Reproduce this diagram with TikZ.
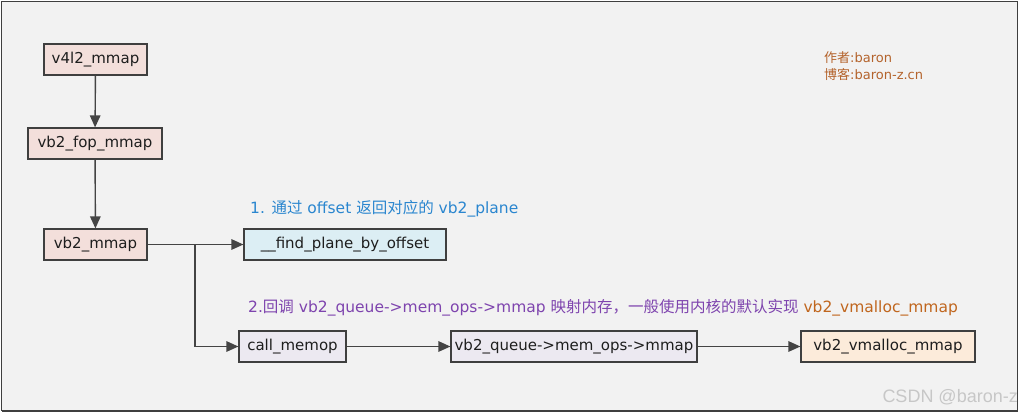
\documentclass[tikz,border=0pt]{standalone}
\usepackage{fontspec}
\setmainfont{DejaVu Sans}
\newfontfamily\cjk{Noto Sans CJK SC}
\newfontfamily\wmfont{Liberation Sans}
\usetikzlibrary{arrows.meta, positioning}

\definecolor{bgcol}{HTML}{F2F2F2}
\definecolor{framecol}{HTML}{3F3F3F}
\definecolor{linecol}{HTML}{444444}
\definecolor{pinkfill}{HTML}{F3DFDB}
\definecolor{bluefill}{HTML}{DCEEF4}
\definecolor{lilacfill}{HTML}{ECE9F1}
\definecolor{peachfill}{HTML}{FCEBDA}
\definecolor{txtcol}{HTML}{1E1E1E}
\definecolor{stepblue}{HTML}{2A86CF}
\definecolor{steppurple}{HTML}{7E44AE}
\definecolor{steporange}{HTML}{C0661E}
\definecolor{authorcol}{HTML}{B4632C}

\tikzset{
  func/.style={draw=framecol, line width=1.2pt, minimum height=31pt, inner sep=0pt,
    text=txtcol, font=\fontsize{15}{18}\selectfont},
  pinkfunc/.style={func, fill=pinkfill},
  bluefunc/.style={func, fill=bluefill},
  lilacfunc/.style={func, fill=lilacfill},
  peachfunc/.style={func, fill=peachfill},
  call/.style={draw=linecol, line width=1.4pt, -{Triangle[length=12pt,width=10.5pt]}},
  note/.style={anchor=west, inner sep=0pt, font=\fontsize{15.5}{18}\selectfont}
}

\begin{document}
\begin{tikzpicture}[x=1pt, y=-1pt]

\useasboundingbox (0,0) rectangle (1020,415);
\fill[white] (0,0) rectangle (1020,415);
\filldraw[fill=bgcol, draw=framecol, line width=1.2pt] (1.5,1.5) rectangle (1017.5,410.5);
\draw[framecol, line width=2pt] (1.5,411) -- (1017.5,411);

%v4l2_mmap
\node[pinkfunc, minimum width=103pt] (v4l2) at (95.5,59.5) {v4l2\_mmap};
%vb2_fop_mmap
\node[pinkfunc, minimum width=134pt] (fop) at (95,143.5) {vb2\_fop\_mmap};
%vb2_mmap
\node[pinkfunc, minimum width=103pt] (vb2mmap) at (95.5,244.5) {vb2\_mmap};
%__find_plane_by_offset
\node[bluefunc, minimum width=202pt] (find) at (345,244.5) {\_\_find\_plane\_by\_offset};
%call_memop
\node[lilacfunc, minimum width=107pt] (memop) at (292.5,346.5) {call\_memop};
%vb2_queue->mem_ops->mmap
\node[lilacfunc, minimum width=246pt] (qmmap) at (574,346.5) {vb2\_queue->mem\_ops->mmap};
%vb2_vmalloc_mmap
\node[peachfunc, minimum width=174pt] (vmalloc) at (888,346.5) {vb2\_vmalloc\_mmap};

\coordinate (fork) at (195,244.5);

\draw[call] (v4l2) -- (fop);
\draw[call] (fop) -- (vb2mmap);
\draw[call] (vb2mmap) -- (find);
\draw[call] (fork) |- (memop);
\draw[call] (memop) -- (qmmap);
\draw[call] (qmmap) -- (vmalloc);

%notes
\node[note, text=stepblue] (note1) at (250,209)
  {1. {\cjk 通过} offset {\cjk 返回对应的} vb2\_plane};
\node[note, text=steppurple] (note2) at (248,308)
  {2.{\cjk 回调} vb2\_queue->mem\_ops->mmap {\cjk 映射内存，一般使用内核的默认实现} \textcolor{steporange}{vb2\_vmalloc\_mmap}};

%author
\node[anchor=west, inner sep=0pt, text=authorcol, font=\fontsize{13}{17}\selectfont, align=left] (author) at (824,66.5)
  {{\cjk 作者}:baron\\{\cjk 博客}:baron-z.cn};

\node[anchor=east, inner sep=0pt, text=black!22, font=\wmfont\fontsize{18}{20}\selectfont] (mark) at (1018,397) {CSDN @baron-z};

\end{tikzpicture}
\end{document}
